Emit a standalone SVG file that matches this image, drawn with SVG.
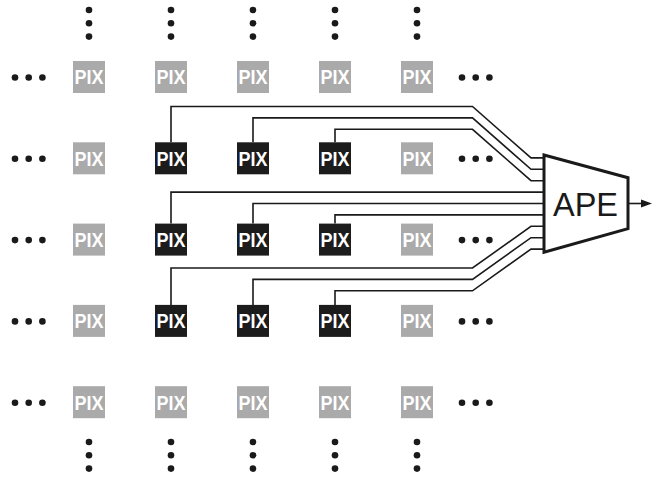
<svg xmlns="http://www.w3.org/2000/svg" width="660" height="477" viewBox="0 0 660 477">
<defs>
<style>
.g rect{fill:#aaaaaa}
.b rect{fill:#1c1c1c}
.pix text{font-family:"Liberation Sans",Arial,sans-serif;font-weight:bold;font-size:19.5px;fill:#ffffff;text-anchor:middle}
.dot{fill:#1a1a1a}
.w{fill:none;stroke:#1a1a1a;stroke-width:1.6;stroke-linejoin:miter}
</style>
<g id="dv"><circle cx="0" cy="0" r="3.3"/><circle cx="0" cy="13.3" r="3.3"/><circle cx="0" cy="26.6" r="3.3"/></g>
<g id="dh"><circle cx="0" cy="0" r="3.3"/><circle cx="13.7" cy="0" r="3.3"/><circle cx="27.4" cy="0" r="3.3"/></g>
</defs>
<rect width="660" height="477" fill="#ffffff"/>

<g id="dots" class="dot">
<use href="#dv" x="89" y="10"/><use href="#dv" x="171" y="10"/><use href="#dv" x="253" y="10"/><use href="#dv" x="335" y="10"/><use href="#dv" x="417" y="10"/>
<use href="#dv" x="89" y="442"/><use href="#dv" x="171" y="442"/><use href="#dv" x="253" y="442"/><use href="#dv" x="335" y="442"/><use href="#dv" x="417" y="442"/>
<use href="#dh" x="15" y="77.5"/><use href="#dh" x="15" y="158.8"/><use href="#dh" x="15" y="240.1"/><use href="#dh" x="15" y="321.4"/><use href="#dh" x="15" y="402.7"/>
<use href="#dh" x="462" y="77.5"/><use href="#dh" x="462" y="158.8"/><use href="#dh" x="462" y="240.1"/><use href="#dh" x="462" y="321.4"/><use href="#dh" x="462" y="402.7"/>
</g>

<g id="connectors" class="w">
<path d="M171 142.3V106.5H472.5L531 157.9H544"/>
<path d="M253 142.3V117.9H472.5L531 169.3H544"/>
<path d="M335 142.3V129.3H472.5L531 180.7H544"/>
<path d="M171 223.6V192.1H544"/>
<path d="M253 223.6V203.5H544"/>
<path d="M335 223.6V214.9H544"/>
<path d="M171 304.9V268H472.5L531 226.3H544"/>
<path d="M253 304.9V279.4H472.5L531 237.7H544"/>
<path d="M335 304.9V290.8H472.5L531 249.1H544"/>
<path d="M628 203.5H643"/>
<polygon points="641,199.5 652,203.5 641,207.5" fill="#1a1a1a" stroke="none"/>
</g>

<g id="pixels">
<g id="p11" class="pix g"><rect x="73" y="61" width="32" height="32"/><text x="89" y="84.3" textLength="29" lengthAdjust="spacingAndGlyphs">PIX</text></g>
<g id="p12" class="pix g"><rect x="155" y="61" width="32" height="32"/><text x="171" y="84.3" textLength="29" lengthAdjust="spacingAndGlyphs">PIX</text></g>
<g id="p13" class="pix g"><rect x="237" y="61" width="32" height="32"/><text x="253" y="84.3" textLength="29" lengthAdjust="spacingAndGlyphs">PIX</text></g>
<g id="p14" class="pix g"><rect x="319" y="61" width="32" height="32"/><text x="335" y="84.3" textLength="29" lengthAdjust="spacingAndGlyphs">PIX</text></g>
<g id="p15" class="pix g"><rect x="401" y="61" width="32" height="32"/><text x="417" y="84.3" textLength="29" lengthAdjust="spacingAndGlyphs">PIX</text></g>

<g id="p21" class="pix g"><rect x="73" y="142.3" width="32" height="32"/><text x="89" y="165.6" textLength="29" lengthAdjust="spacingAndGlyphs">PIX</text></g>
<g id="p22" class="pix b"><rect x="155" y="142.3" width="32" height="32"/><text x="171" y="165.6" textLength="29" lengthAdjust="spacingAndGlyphs">PIX</text></g>
<g id="p23" class="pix b"><rect x="237" y="142.3" width="32" height="32"/><text x="253" y="165.6" textLength="29" lengthAdjust="spacingAndGlyphs">PIX</text></g>
<g id="p24" class="pix b"><rect x="319" y="142.3" width="32" height="32"/><text x="335" y="165.6" textLength="29" lengthAdjust="spacingAndGlyphs">PIX</text></g>
<g id="p25" class="pix g"><rect x="401" y="142.3" width="32" height="32"/><text x="417" y="165.6" textLength="29" lengthAdjust="spacingAndGlyphs">PIX</text></g>

<g id="p31" class="pix g"><rect x="73" y="223.6" width="32" height="32"/><text x="89" y="246.9" textLength="29" lengthAdjust="spacingAndGlyphs">PIX</text></g>
<g id="p32" class="pix b"><rect x="155" y="223.6" width="32" height="32"/><text x="171" y="246.9" textLength="29" lengthAdjust="spacingAndGlyphs">PIX</text></g>
<g id="p33" class="pix b"><rect x="237" y="223.6" width="32" height="32"/><text x="253" y="246.9" textLength="29" lengthAdjust="spacingAndGlyphs">PIX</text></g>
<g id="p34" class="pix b"><rect x="319" y="223.6" width="32" height="32"/><text x="335" y="246.9" textLength="29" lengthAdjust="spacingAndGlyphs">PIX</text></g>
<g id="p35" class="pix g"><rect x="401" y="223.6" width="32" height="32"/><text x="417" y="246.9" textLength="29" lengthAdjust="spacingAndGlyphs">PIX</text></g>

<g id="p41" class="pix g"><rect x="73" y="304.9" width="32" height="32"/><text x="89" y="328.2" textLength="29" lengthAdjust="spacingAndGlyphs">PIX</text></g>
<g id="p42" class="pix b"><rect x="155" y="304.9" width="32" height="32"/><text x="171" y="328.2" textLength="29" lengthAdjust="spacingAndGlyphs">PIX</text></g>
<g id="p43" class="pix b"><rect x="237" y="304.9" width="32" height="32"/><text x="253" y="328.2" textLength="29" lengthAdjust="spacingAndGlyphs">PIX</text></g>
<g id="p44" class="pix b"><rect x="319" y="304.9" width="32" height="32"/><text x="335" y="328.2" textLength="29" lengthAdjust="spacingAndGlyphs">PIX</text></g>
<g id="p45" class="pix g"><rect x="401" y="304.9" width="32" height="32"/><text x="417" y="328.2" textLength="29" lengthAdjust="spacingAndGlyphs">PIX</text></g>

<g id="p51" class="pix g"><rect x="73" y="386.2" width="32" height="32"/><text x="89" y="409.5" textLength="29" lengthAdjust="spacingAndGlyphs">PIX</text></g>
<g id="p52" class="pix g"><rect x="155" y="386.2" width="32" height="32"/><text x="171" y="409.5" textLength="29" lengthAdjust="spacingAndGlyphs">PIX</text></g>
<g id="p53" class="pix g"><rect x="237" y="386.2" width="32" height="32"/><text x="253" y="409.5" textLength="29" lengthAdjust="spacingAndGlyphs">PIX</text></g>
<g id="p54" class="pix g"><rect x="319" y="386.2" width="32" height="32"/><text x="335" y="409.5" textLength="29" lengthAdjust="spacingAndGlyphs">PIX</text></g>
<g id="p55" class="pix g"><rect x="401" y="386.2" width="32" height="32"/><text x="417" y="409.5" textLength="29" lengthAdjust="spacingAndGlyphs">PIX</text></g>
</g>

<g id="ape">
<polygon points="544,155 628,177.7 628,228.7 544,252.3" fill="#ffffff" stroke="#1a1a1a" stroke-width="3" stroke-linejoin="miter"/>
<text x="585.5" y="216" font-family="'Liberation Sans',Arial,sans-serif" font-size="32.5" fill="#1a1a1a" text-anchor="middle">APE</text>
</g>
</svg>
